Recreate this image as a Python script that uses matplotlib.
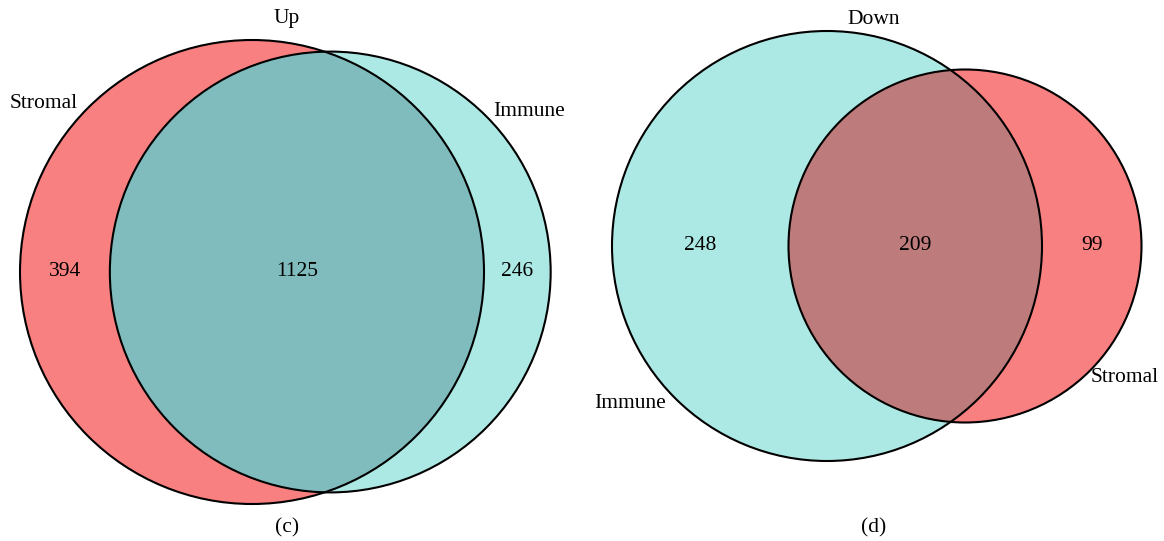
import matplotlib.pyplot as plt
from matplotlib.patches import Circle
import numpy as np

# counts per region: (only first, both, only second)
up_names = ["Stromal", "Immune"]
up_counts = [394, 1125, 246]
down_names = ["Immune", "Stromal"]
down_counts = [248, 209, 99]
titles = ["Up", "Down"]
panel_tags = ["(c)", "(d)"]

red = "#F98080"
teal = "#ADE9E4"
fs = 15.5

plt.rcParams["font.family"] = ["Liberation Serif", "DejaVu Serif"]


def lens_area(r1, r2, d):
    if d >= r1 + r2:
        return 0.0
    if d <= abs(r1 - r2):
        return np.pi * min(r1, r2) ** 2
    a1 = r1**2 * np.arccos((d**2 + r1**2 - r2**2) / (2 * d * r1))
    a2 = r2**2 * np.arccos((d**2 + r2**2 - r1**2) / (2 * d * r2))
    a3 = 0.5 * np.sqrt((-d + r1 + r2) * (d + r1 - r2) * (d - r1 + r2) * (d + r1 + r2))
    return a1 + a2 - a3


def venn(ax, counts, c1, c2, cboth, cx, cy, rmax):
    a, b, c = counts
    n1, n2 = a + b, b + c
    s = rmax / np.sqrt(max(n1, n2))
    r1, r2 = s * np.sqrt(n1), s * np.sqrt(n2)
    # distance between centres so that the lens area matches the shared count
    target = b / n1 * np.pi * r1**2
    lo, hi = abs(r1 - r2), r1 + r2
    for _ in range(60):
        mid = (lo + hi) / 2
        if lens_area(r1, r2, mid) > target:
            lo = mid
        else:
            hi = mid
    d = (lo + hi) / 2
    x2 = cx + d

    p1 = Circle((cx, cy), r1, facecolor=c1, edgecolor="none")
    p2 = Circle((x2, cy), r2, facecolor=c2, edgecolor="none")
    ax.add_patch(p1)
    ax.add_patch(p2)
    lens = Circle((x2, cy), r2, facecolor=cboth, edgecolor="none")
    ax.add_patch(lens)
    lens.set_clip_path(p1)
    ax.add_patch(Circle((cx, cy), r1, fill=False, edgecolor="black", lw=1.5))
    ax.add_patch(Circle((x2, cy), r2, fill=False, edgecolor="black", lw=1.5))

    left1, right1 = cx - r1, cx + r1
    left2, right2 = x2 - r2, x2 + r2
    xs = [(left1 + left2) / 2, (left2 + right1) / 2, (right1 + right2) / 2]
    for x, v in zip(xs, counts):
        ax.text(x, cy, str(v), ha="center", va="center", fontsize=fs)


fig = plt.figure(figsize=(11.64, 5.41), dpi=100)
ax = fig.add_axes([0, 0, 1, 1])
ax.set_xlim(0, 1164)
ax.set_ylim(541, 0)
ax.axis("off")

venn(ax, up_counts, red, teal, "#80BCBD", 252, 272, 232)
venn(ax, down_counts, teal, red, "#BD7B7B", 827, 246, 215)

ax.text(287, 19, titles[0], ha="center", va="center", fontsize=fs)
ax.text(874, 19, titles[1], ha="center", va="center", fontsize=fs)
ax.text(287, 528, panel_tags[0], ha="center", va="center", fontsize=fs)
ax.text(874, 528, panel_tags[1], ha="center", va="center", fontsize=fs)

ax.text(44, 104, up_names[0], ha="center", va="center", fontsize=fs)
ax.text(529, 112, up_names[1], ha="center", va="center", fontsize=fs)
ax.text(630, 403, down_names[0], ha="center", va="center", fontsize=fs)
ax.text(1125, 378, down_names[1], ha="center", va="center", fontsize=fs)

fig.savefig("out.png", dpi=100)
